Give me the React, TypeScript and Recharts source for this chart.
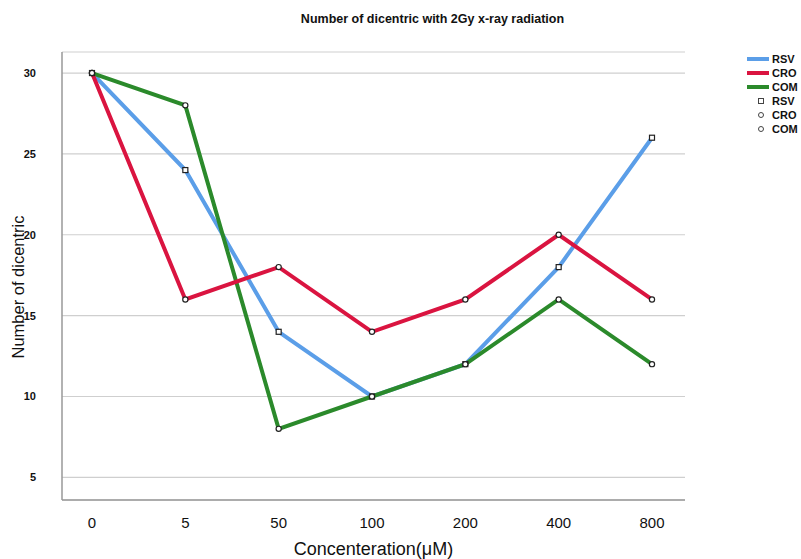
import { LineChart, Line, XAxis, YAxis, CartesianGrid } from "recharts";

const concentrations = ["0", "5", "50", "100", "200", "400", "800"];
const rsv = [30, 24, 14, 10, 12, 18, 26];
const cro = [30, 16, 18, 14, 16, 20, 16];
const com = [30, 28, 8, 10, 12, 16, 12];
const yTicks = [5, 10, 15, 20, 25, 30];

const data = concentrations.map((c, i) => ({
  c,
  RSV: rsv[i],
  CRO: cro[i],
  COM: com[i],
}));

const BLUE = "#5b9ee8";
const RED = "#da1440";
const GREEN = "#2b8a2b";

const SquareDot = (props: any) => {
  const { cx, cy } = props;
  if (cx == null || cy == null) return null;
  return (
    <rect x={cx - 2.5} y={cy - 2.5} width={5} height={5} fill="#fff" stroke="#222" strokeWidth={1.2} />
  );
};
const CircleDot = (props: any) => {
  const { cx, cy } = props;
  if (cx == null || cy == null) return null;
  return <circle cx={cx} cy={cy} r={2.6} fill="#fff" stroke="#222" strokeWidth={1.2} />;
};

const font = "Arial, 'Liberation Sans', sans-serif";

export default function App() {
  const legendLines = [
    { name: "RSV", color: BLUE },
    { name: "CRO", color: RED },
    { name: "COM", color: GREEN },
  ];
  const legendMarks = [
    { name: "RSV", square: true },
    { name: "CRO", square: false },
    { name: "COM", square: false },
  ];
  return (
    <div style={{ position: "absolute", left: 0, top: 0, width: 801, height: 559, background: "#fff", fontFamily: font }}>
      <LineChart
        width={801}
        height={559}
        data={data}
        margin={{ top: 52, right: 116, left: 22, bottom: 29 }}
      >
        <CartesianGrid vertical={false} stroke="#cfcfcf" strokeWidth={1.2} />
        <XAxis
          dataKey="c"
          height={30}
          padding={{ left: 30, right: 33 }}
          tickLine={false}
          axisLine={{ stroke: "#999", strokeWidth: 1.5 }}
          tick={{ fontSize: 15, fill: "#111", fontFamily: font }}
          tickMargin={11}
        />
        <YAxis
          width={40}
          domain={[3.6, 31.3]}
          ticks={yTicks}
          tickLine={false}
          axisLine={{ stroke: "#999", strokeWidth: 1.5 }}
          tick={{ fontSize: 11, fill: "#111", fontWeight: "bold", fontFamily: font }}
          tickMargin={20}
          allowDataOverflow
        />
        <Line dataKey="RSV" stroke={BLUE} strokeWidth={4} dot={<SquareDot />} activeDot={false} isAnimationActive={false} />
        <Line dataKey="COM" stroke={GREEN} strokeWidth={4} dot={<CircleDot />} activeDot={false} isAnimationActive={false} />
        <Line dataKey="CRO" stroke={RED} strokeWidth={4} dot={<CircleDot />} activeDot={false} isAnimationActive={false} />
      </LineChart>

      <div style={{ position: "absolute", left: 0, width: 801, top: 12, textAlign: "center", fontSize: 12.5, fontWeight: "bold", color: "#111", paddingLeft: 64, boxSizing: "border-box" }}>
        Number of dicentric with 2Gy x-ray radiation
      </div>
      <div style={{ position: "absolute", left: 62, width: 623, top: 539, textAlign: "center", fontSize: 18, color: "#111" }}>
        Concenteration(μM)
      </div>
      <div
        style={{
          position: "absolute",
          left: 18,
          top: 287,
          transform: "translate(-50%, -50%) rotate(-90deg)",
          fontSize: 16.5,
          color: "#111",
          whiteSpace: "nowrap",
        }}
      >
        Number of dicentric
      </div>

      <div style={{ position: "absolute", left: 747, top: 52, fontSize: 11, fontWeight: "bold", color: "#111", lineHeight: "14px" }}>
        {legendLines.map((l) => (
          <div key={"l" + l.name} style={{ display: "flex", alignItems: "center", height: 14 }}>
            <div style={{ width: 22, height: 4, background: l.color, marginRight: 3 }} />
            {l.name}
          </div>
        ))}
        {legendMarks.map((m, i) => (
          <div key={"m" + i} style={{ display: "flex", alignItems: "center", height: 14 }}>
            <div style={{ width: 25, display: "flex", justifyContent: "center" }}>
              <div
                style={{
                  width: 4,
                  height: 4,
                  border: "1.2px solid #444",
                  borderRadius: m.square ? 0 : "50%",
                  background: "#fff",
                  marginLeft: 2,
                }}
              />
            </div>
            {m.name}
          </div>
        ))}
      </div>
    </div>
  );
}
